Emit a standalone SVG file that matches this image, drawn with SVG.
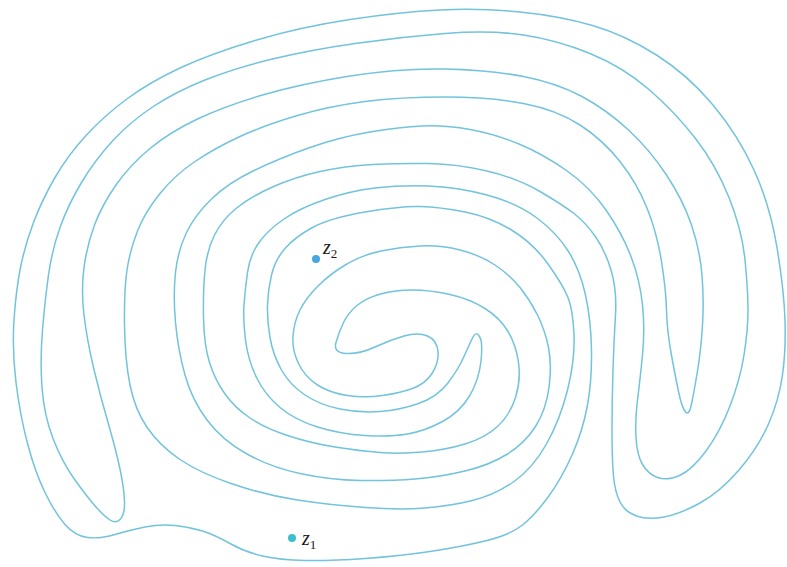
<svg xmlns="http://www.w3.org/2000/svg" width="787" height="567" viewBox="0 0 787 567">
<style>
.curve{fill:none;stroke:#72c3dc;stroke-width:1.5;stroke-linejoin:round}
.lbl{font-family:"Liberation Serif",serif;font-style:italic;font-size:20px;fill:#1a1a1a}
.sub{font-style:normal;font-size:13px}
</style>
<rect width="787" height="567" fill="#ffffff"/>
<g id="connectors">
<path id="jordan-curve" class="curve" d="M14,320 Q16,290 20.5,267.5 Q25,245 33.5,222.5 Q42,200 55,177.5 Q68,155 86.5,135 Q105,115 127.5,98.5 Q150,82 180,68 Q210,54 255,40.5 Q300,27 350,19.5 Q400,12 440,10 Q480,8 520,12 Q560,16 592.5,25.5 Q625,35 656.5,55 Q688,75 713,105 Q738,135 754,170 Q770,205 777,247.5 Q784,290 785,320 Q786,350 782.5,375 Q779,400 768.5,424 Q758,448 739,470 Q720,492 700,503 Q680,514 664,517 Q648,520 636.5,516 Q625,512 620,502 Q615,492 613.5,476 Q612,460 612,430 Q612,400 613,370 Q614,340 615.5,315 Q617,290 611,270 Q605,250 595,236 Q585,222 574,213.5 Q563,205 540,191.5 Q517,178 487,171 Q457,164 428.5,163.5 Q400,163 372.5,164.5 Q345,166 320,171.5 Q295,177 272.5,187 Q250,197 236,208.5 Q222,220 214.5,235 Q207,250 205,270 Q203,290 203.5,317.5 Q204,345 209.5,362.5 Q215,380 225,394 Q235,408 250,418 Q265,428 287.5,435.5 Q310,443 335,447 Q360,451 380,452.5 Q400,454 422.5,452 Q445,450 465,444 Q485,438 497.5,426.5 Q510,415 515.5,397.5 Q521,380 518.5,362.5 Q516,345 508,331.5 Q500,318 485,308.5 Q470,299 450,294.5 Q430,290 412.5,290 Q395,290 380.5,294 Q366,298 357,305.5 Q348,313 343.5,322.5 Q339,332 336,342.5 Q333,353 346.5,353.5 Q360,354 375,347 Q390,340 404,336 Q418,332 427.5,336 Q437,340 438,351.5 Q439,363 432,373.5 Q425,384 412.5,388.5 Q400,393 382.5,395.5 Q365,398 347.5,395.5 Q330,393 317.5,385 Q305,377 298.5,363.5 Q292,350 293,336 Q294,322 300,310 Q306,298 318,286 Q330,274 346,264.5 Q362,255 381,251 Q400,247 420,246 Q440,245 460,250 Q480,255 495,265 Q510,275 520,287.5 Q530,300 537.5,315 Q545,330 548.5,347.5 Q552,365 549,387.5 Q546,410 535.5,426.5 Q525,443 507.5,454 Q490,465 465,471 Q440,477 415,479 Q390,481 360,480.5 Q330,480 300,473.5 Q270,467 246,453.5 Q222,440 207,420 Q192,400 185,375 Q178,350 175.5,322.5 Q173,295 175.5,272.5 Q178,250 186.5,232.5 Q195,215 211.5,199 Q228,183 254,170.5 Q280,158 310,147.5 Q340,137 370,132 Q400,127 422.5,126 Q445,125 470,129.5 Q495,134 519,144 Q543,154 566.5,170.5 Q590,187 606,210 Q622,233 631,256.5 Q640,280 642.5,305 Q645,330 642.5,355 Q640,380 637.5,400 Q635,420 636,437.5 Q637,455 642.5,464.5 Q648,474 657.5,477.5 Q667,481 679.5,475.5 Q692,470 706,451 Q720,432 730,406 Q740,380 744,355 Q748,330 748,310 Q748,290 745,260 Q742,230 729,197.5 Q716,165 695.5,138.5 Q675,112 649,89.5 Q623,67 590,53.5 Q557,40 523.5,35 Q490,30 445,33.5 Q400,37 355,43.5 Q310,50 272.5,59 Q235,68 205,80 Q175,92 152.5,107 Q130,122 112.5,141 Q95,160 81.5,182.5 Q68,205 60,227.5 Q52,250 48.5,275 Q45,300 42.5,330 Q40,360 42,387.5 Q44,415 53,438.5 Q62,462 75,480 Q88,498 96,507 Q104,516 110,520 Q116,524 120.5,519 Q125,514 124.5,501 Q124,488 120,469 Q116,450 108,422.5 Q100,395 93.5,367.5 Q87,340 84,315 Q81,290 84,267.5 Q87,245 94.5,225 Q102,205 116,185 Q130,165 150,148.5 Q170,132 197.5,119 Q225,106 262.5,95 Q300,84 350,76 Q400,68 445,69 Q490,70 523.5,76.5 Q557,83 582,96.5 Q607,110 628.5,130 Q650,150 666.5,175 Q683,200 691.5,225 Q700,250 702,275 Q704,300 702.5,325 Q701,350 697.5,371 Q694,392 691.5,404 Q689,416 685.5,412 Q682,408 678.5,391.5 Q675,375 671,352.5 Q667,330 666.5,310 Q666,290 661.5,261.5 Q657,233 647,208 Q637,183 620,161.5 Q603,140 580,125 Q557,110 523.5,103.5 Q490,97 445,97 Q400,97 365,101.5 Q330,106 297.5,115.5 Q265,125 240,136.5 Q215,148 195,161.5 Q175,175 160,193.5 Q145,212 137.5,231 Q130,250 127,270 Q124,290 124.5,325 Q125,360 130,385 Q135,410 147.5,428 Q160,446 180,459.5 Q200,473 232.5,484 Q265,495 297.5,500 Q330,505 365,507.5 Q400,510 425,508 Q450,506 472.5,500.5 Q495,495 514,481.5 Q533,468 546.5,444 Q560,420 567.5,390 Q575,360 574,335 Q573,310 568,297.5 Q563,285 548,264 Q533,243 511.5,230 Q490,217 465,212 Q440,207 420,206.5 Q400,206 365,212 Q330,218 312.5,227.5 Q295,237 285,248.5 Q275,260 271.5,275 Q268,290 267.5,305 Q267,320 270,337.5 Q273,355 281.5,370 Q290,385 305,395 Q320,405 340,409 Q360,413 380,411.5 Q400,410 418.5,403.5 Q437,397 447.5,383.5 Q458,370 464,356.5 Q470,343 473,337 Q476,331 479.5,336.5 Q483,342 481,361 Q479,380 469.5,396 Q460,412 442.5,421.5 Q425,431 407.5,434 Q390,437 365,435.5 Q340,434 317.5,427 Q295,420 280,407.5 Q265,395 256.5,377.5 Q248,360 245.5,340 Q243,320 244,305 Q245,290 247.5,272.5 Q250,255 259,242.5 Q268,230 284,219 Q300,208 325,199.5 Q350,191 375,188 Q400,185 428.5,186 Q457,187 487,195 Q517,203 537,218 Q557,233 568.5,251.5 Q580,270 585.5,295 Q591,320 591.5,350 Q592,380 587.5,405 Q583,430 572.5,454 Q562,478 548.5,496.5 Q535,515 522.5,525 Q510,535 485,541 Q460,547 430,551.5 Q400,556 365,558.5 Q330,561 305,560.5 Q280,560 262.5,556 Q245,552 230,543.5 Q215,535 202.5,531 Q190,527 175,525.5 Q160,524 145,527 Q130,530 115,534.5 Q100,539 87.5,537.5 Q75,536 65,524.5 Q55,513 45,492.5 Q35,472 27.5,443.5 Q20,415 16,382.5 Q12,350 14,320 Z"/>
</g>
<g id="z2">
<circle cx="316" cy="259" r="4" fill="#45a6e0"/>
<text class="lbl" x="323" y="254">z<tspan class="sub" dy="4">2</tspan></text>
</g>
<g id="z1">
<circle cx="292" cy="538" r="4" fill="#3cbfcf"/>
<text class="lbl" x="302" y="545">z<tspan class="sub" dy="4">1</tspan></text>
</g>
</svg>
